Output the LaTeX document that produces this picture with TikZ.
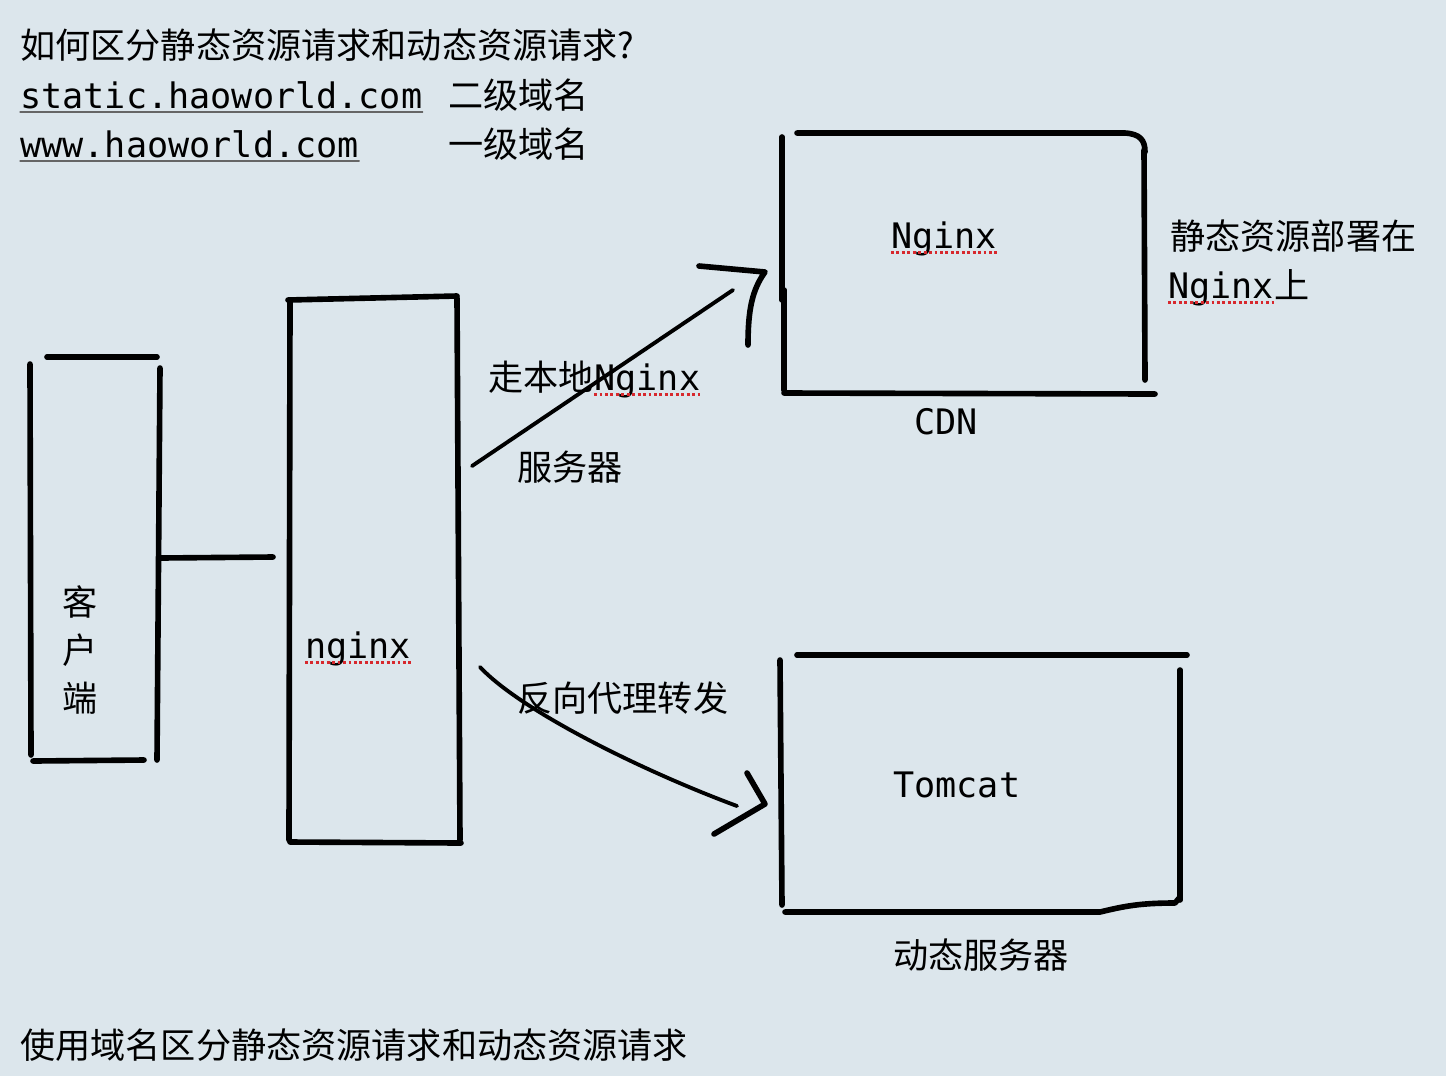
\documentclass[tikz,border=0pt]{standalone}
\usepackage{fontspec}
\setmainfont{DejaVu Sans Mono}
\newfontfamily\cjk{Noto Sans CJK SC}
\usetikzlibrary{positioning,calc}
\definecolor{paper}{RGB}{220,230,236}
\definecolor{spellred}{RGB}{215,40,45}
\tikzset{every picture/.style={line cap=round,line join=round}}
\tikzset{pen/.style={line width=3.2pt,black}}
\tikzset{thin pen/.style={line width=2.2pt,black}}
\tikzset{txt/.style={inner sep=0pt,anchor=base west,font=\fontsize{20pt}{24pt}\selectfont}}
\tikzset{spell/.style={spellred,line width=1.7pt,dash pattern=on 1.6pt off 1.5pt,line cap=butt}}
\tikzset{url line/.style={line width=0.7pt,black!60}}

\begin{document}
\begin{tikzpicture}[x=0.02cm,y=-0.02cm]
  \fill[paper] (0,0) rectangle (1446,1076);
  \useasboundingbox (0,0) rectangle (1446,1076);

  % header lines
  \node[txt] (question) at (20,58) {\cjk 如何区分静态资源请求和动态资源请求?};
  \node[txt] (sub) at (20,108) {static.haoworld.com};
  \node[txt] (level2) at (448,108) {\cjk 二级域名};
  \node[txt] (www) at (20,157) {www.haoworld.com};
  \node[txt] (level1) at (448,157) {\cjk 一级域名};
  \draw[url line] ($(sub.base west)+(0,4)$) -- ($(sub.base east)+(0,4)$);
  \draw[url line] ($(www.base west)+(0,4)$) -- ($(www.base east)+(0,4)$);

  % client
  \draw[pen] (47,357) -- (157,357);
  \draw[pen] (30,364) -- (31,755);
  \draw[pen] (160,368) -- (157,760);
  \draw[pen] (33,761) -- (144,760);
  \node[inner sep=0pt,align=center,font=\fontsize{20pt}{27.2pt}\selectfont\cjk] (client) at (80,650) {客\\户\\端};

  % nginx proxy
  \draw[pen] (288,300) -- (457,296);
  \draw[pen] (290,300) -- (289,840);
  \draw[pen] (457,298) -- (460,840);
  \draw[pen] (290,842) -- (461,843);
  \node[txt] (proxy) at (305,658) {nginx};
  \draw[spell] ($(proxy.base west)+(0,4)$) -- ($(proxy.base east)+(0,4)$);

  \coordinate (link a) at (160,558);
  \coordinate (link b) at (273,557);
  \draw[pen] (link a) -- (link b);

  % static server (CDN)
  \draw[pen] (797,133) -- (1125,133) .. controls (1140,134) and (1145,140) .. (1145,152);
  \draw[pen] (782,137) -- (782,300);
  \draw[pen] (784,290) -- (784,390);
  \draw[pen] (1144,150) -- (1145,380);
  \draw[pen] (784,393) -- (1155,394);
  \node[txt] (cdnapp) at (891,248) {Nginx};
  \draw[spell] ($(cdnapp.base west)+(0,4)$) -- ($(cdnapp.base east)+(0,4)$);
  \node[txt] (cdn) at (914,434) {CDN};
  \node[txt] (deploy) at (1170,249) {\cjk 静态资源部署在};
  \node[txt] (deployapp) at (1168,298) {Nginx};
  \node[txt,right=0pt of deployapp.base east,anchor=base west] (deployon) {\cjk 上};
  \draw[spell] ($(deployapp.base west)+(0,4)$) -- ($(deployapp.base east)+(0,4)$);

  % static route
  \coordinate (static from) at (472,466);
  \coordinate (static to) at (733,290);
  \draw[thin pen] (static from) -- (static to);
  \draw[pen] (699,266) -- (765,272) .. controls (752,290) and (748,310) .. (748,345);
  \node[txt] (local) at (488,390) {\cjk 走本地};
  \node[txt,right=0pt of local.base east,anchor=base west] (localapp) {Nginx};
  \draw[spell] ($(localapp.base west)+(0,4)$) -- ($(localapp.base east)+(0,4)$);
  \node[txt] (localsrv) at (517,480) {\cjk 服务器};

  % dynamic route
  \coordinate (dyn from) at (480,667);
  \coordinate (dyn to) at (737,806);
  \draw[thin pen] (dyn from) .. controls (520,710) and (640,770) .. (dyn to);
  \draw[pen] (747,773) -- (765,804) -- (714,834);
  \node[txt] (proxypass) at (517,711) {\cjk 反向代理转发};

  % dynamic server (Tomcat)
  \draw[pen] (797,655) -- (1187,655);
  \draw[pen] (780,660) -- (782,905);
  \draw[pen] (1180,670) -- (1180,900);
  \draw[pen] (785,912) -- (1100,912) .. controls (1125,906) and (1140,903) .. (1175,903) -- (1180,897);
  \node[txt] (tomcat) at (893,797) {Tomcat};
  \node[txt] (dynsrv) at (893,968) {\cjk 动态服务器};

  \node[txt] (summary) at (20,1058) {\cjk 使用域名区分静态资源请求和动态资源请求};
\end{tikzpicture}
\end{document}
